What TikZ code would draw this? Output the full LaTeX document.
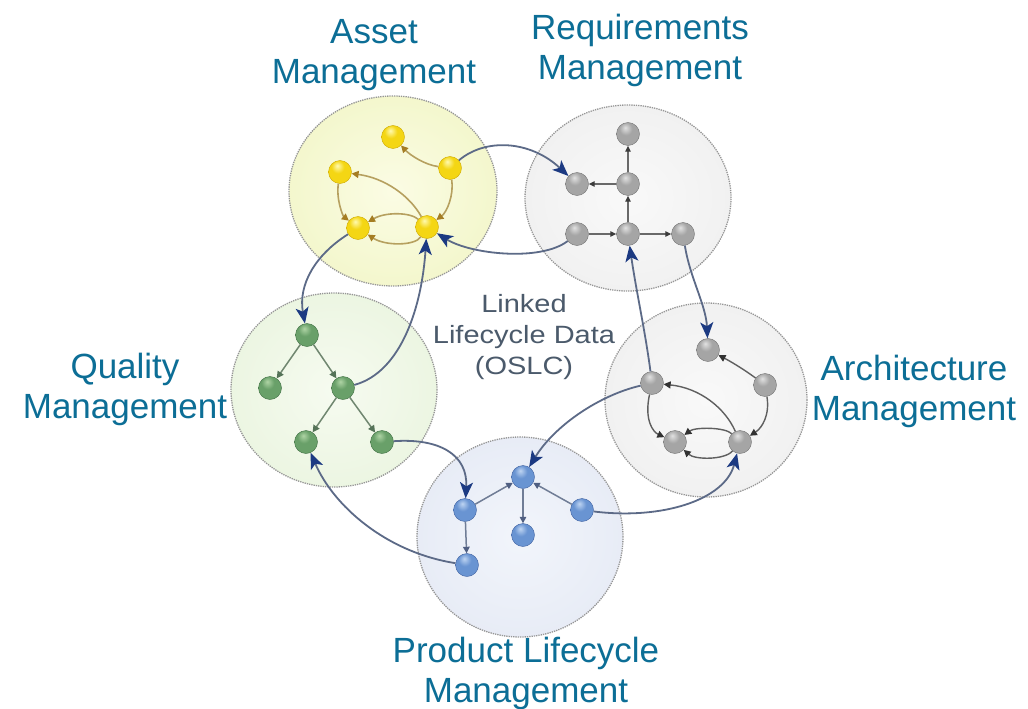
\documentclass[tikz,border=0pt]{standalone}
\usepackage{fontspec}
\setmainfont{Liberation Sans}
\newfontfamily\widefont[FakeStretch=1.16]{Liberation Sans}
\usetikzlibrary{arrows.meta}

\definecolor{labelblue}{RGB}{12,110,150}
\definecolor{linkgray}{RGB}{75,90,107}
\definecolor{xline}{RGB}{92,106,135}
\definecolor{xtip}{RGB}{28,58,130}
\definecolor{rim}{RGB}{150,150,150}

\definecolor{yL}{RGB}{255,250,175}
\definecolor{yM}{RGB}{244,214,20}
\definecolor{yD}{RGB}{205,168,0}
\definecolor{gL}{RGB}{225,225,225}
\definecolor{gM}{RGB}{165,165,165}
\definecolor{gD}{RGB}{115,115,115}
\definecolor{nL}{RGB}{175,212,165}
\definecolor{nM}{RGB}{105,160,105}
\definecolor{nD}{RGB}{62,110,66}
\definecolor{bL}{RGB}{190,212,242}
\definecolor{bM}{RGB}{105,148,210}
\definecolor{bD}{RGB}{62,96,160}

\definecolor{dYi}{RGB}{251,252,228}
\definecolor{dYo}{RGB}{236,242,182}
\definecolor{dGi}{RGB}{249,249,249}
\definecolor{dGo}{RGB}{233,233,233}
\definecolor{dNi}{RGB}{246,251,240}
\definecolor{dNo}{RGB}{226,240,212}
\definecolor{dBi}{RGB}{242,245,251}
\definecolor{dBo}{RGB}{221,227,241}

\pgfdeclareradialshading{ballY}{\pgfpoint{-6bp}{14bp}}{color(0bp)=(yL); color(14bp)=(yM); color(38bp)=(yM); color(52bp)=(yD); color(75bp)=(yD)}
\pgfdeclareradialshading{ballG}{\pgfpoint{-6bp}{14bp}}{color(0bp)=(gL); color(14bp)=(gM); color(38bp)=(gM); color(52bp)=(gD); color(75bp)=(gD)}
\pgfdeclareradialshading{ballN}{\pgfpoint{-6bp}{14bp}}{color(0bp)=(nL); color(14bp)=(nM); color(38bp)=(nM); color(52bp)=(nD); color(75bp)=(nD)}
\pgfdeclareradialshading{ballB}{\pgfpoint{-6bp}{14bp}}{color(0bp)=(bL); color(14bp)=(bM); color(38bp)=(bM); color(52bp)=(bD); color(75bp)=(bD)}

\pgfdeclareradialshading{discY}{\pgfpointorigin}{color(0bp)=(dYi); color(50bp)=(dYo); color(75bp)=(dYo)}
\pgfdeclareradialshading{discG}{\pgfpointorigin}{color(0bp)=(dGi); color(50bp)=(dGo); color(75bp)=(dGo)}
\pgfdeclareradialshading{discN}{\pgfpointorigin}{color(0bp)=(dNi); color(50bp)=(dNo); color(75bp)=(dNo)}
\pgfdeclareradialshading{discB}{\pgfpointorigin}{color(0bp)=(dBi); color(50bp)=(dBo); color(75bp)=(dBo)}

\tikzset{
  ball/.style={circle, minimum size=23pt, inner sep=0pt, draw=#1D, line width=0.4pt, shading=ball#1},
  yball/.style={circle, minimum size=23pt, inner sep=0pt, draw=yD, line width=0.4pt, shading=ballY},
  gball/.style={circle, minimum size=23pt, inner sep=0pt, draw=gD, line width=0.4pt, shading=ballG},
  nball/.style={circle, minimum size=23pt, inner sep=0pt, draw=nD, line width=0.4pt, shading=ballN},
  bball/.style={circle, minimum size=23pt, inner sep=0pt, draw=bD, line width=0.4pt, shading=ballB},
  disc/.style={draw=rim, line width=1.3pt, densely dotted},
  biglabel/.style={text=labelblue, align=center, inner sep=0pt, font=\fontsize{35}{40}\selectfont},
  xlink/.style={draw=xline, line width=1.8pt, -{Stealth[length=16pt,width=13pt,inset=4pt,color=xtip]}},
  yedge/.style={draw={rgb,255:red,182;green,160;blue,95}, line width=1.6pt, -{Triangle[length=7pt,width=7pt,color={rgb,255:red,165;green,125;blue,35}]}},
  gedge/.style={draw={rgb,255:red,105;green,105;blue,105}, line width=1.3pt, -{Triangle[length=6pt,width=5.5pt,color={rgb,255:red,60;green,60;blue,60}]}},
  hedge/.style={draw={rgb,255:red,95;green,95;blue,95}, line width=1.4pt, -{Triangle[length=7pt,width=7pt,color={rgb,255:red,50;green,50;blue,50}]}},
  nedge/.style={draw={rgb,255:red,112;green,135;blue,112}, line width=1.5pt, -{Triangle[length=7pt,width=7pt,color={rgb,255:red,85;green,115;blue,88}]}},
  bedge/.style={draw={rgb,255:red,112;green,125;blue,150}, line width=1.5pt, -{Triangle[length=6.5pt,width=6.5pt,color={rgb,255:red,80;green,95;blue,130}]}},
}

\begin{document}
\begin{tikzpicture}[x=1pt,y=-1pt]
\useasboundingbox (0,0) rectangle (1028,709);
\fill[white] (0,0) rectangle (1028,709);

% discs
\path[disc, shading=discY] (393,191) ellipse [x radius=104pt, y radius=95pt];
\path[disc, shading=discG] (628,198) ellipse [x radius=103pt, y radius=93pt];
\path[disc, shading=discG] (706,400) ellipse [x radius=101pt, y radius=97pt];
\path[disc, shading=discN] (334,390) ellipse [x radius=103pt, y radius=97pt];
\path[disc, shading=discB] (520,537) ellipse [x radius=103pt, y radius=100pt];

% Asset management balls
\node[yball] (A1) at (393,137) {};
\node[yball] (A2) at (340,172) {};
\node[yball] (A3) at (450,168) {};
\node[yball] (A4) at (358,228) {};
\node[yball] (A5) at (427,227) {};

% Requirements
\node[gball] (R1) at (628,134) {};
\node[gball] (R2) at (577,184) {};
\node[gball] (R3) at (628,184) {};
\node[gball] (R4) at (577,234) {};
\node[gball] (R5) at (628,234) {};
\node[gball] (R6) at (683,234) {};

% Architecture
\node[gball] (H1) at (708,350) {};
\node[gball] (H2) at (652,383) {};
\node[gball] (H3) at (765,385) {};
\node[gball] (H4) at (675,442) {};
\node[gball] (H5) at (740,442) {};

% Quality
\node[nball] (Q1) at (307,335) {};
\node[nball] (Q2) at (270,388) {};
\node[nball] (Q3) at (343,388) {};
\node[nball] (Q4) at (306,442) {};
\node[nball] (Q5) at (382,442) {};

% Product lifecycle
\node[bball] (P1) at (523,477) {};
\node[bball] (P2) at (465,510) {};
\node[bball] (P3) at (523,535) {};
\node[bball] (P4) at (582,510) {};
\node[bball] (P5) at (467,565) {};

% inner edges: asset
\draw[yedge] (A3) .. controls (425,165) and (410,155) .. (A1);
\draw[yedge] (A5) .. controls (410,196) and (385,178) .. (A2);
\draw[yedge] (A2) .. controls (336,200) and (343,216) .. (A4);
\draw[yedge] (A3) .. controls (454,195) and (447,212) .. (A5);
\draw[yedge] (A5) .. controls (410,212) and (385,212) .. (A4);
\draw[yedge] (A5) .. controls (415,246) and (385,246) .. (A4);

% inner edges: requirements
\draw[gedge] (R3) -- (R1);
\draw[gedge] (R3) -- (R2);
\draw[gedge] (R5) -- (R3);
\draw[gedge] (R4) -- (R5);
\draw[gedge] (R5) -- (R6);

% inner edges: architecture
\draw[hedge] (H3) .. controls (742,368) and (728,360) .. (H1);
\draw[hedge] (H5) .. controls (725,408) and (700,388) .. (H2);
\draw[hedge] (H2) .. controls (644,420) and (653,432) .. (H4);
\draw[hedge] (H3) .. controls (770,415) and (762,428) .. (H5);
\draw[hedge] (H5) .. controls (725,427) and (695,427) .. (H4);
\draw[hedge] (H5) .. controls (725,460) and (695,460) .. (H4);

% inner edges: quality
\draw[nedge] (Q1) -- (Q2);
\draw[nedge] (Q1) -- (Q3);
\draw[nedge] (Q3) -- (Q4);
\draw[nedge] (Q3) -- (Q5);

% inner edges: product
\draw[bedge] (P2) -- (P1);
\draw[bedge] (P4) -- (P1);
\draw[bedge] (P1) -- (P3);
\draw[bedge] (P2) -- (P5);

% cross links
\draw[xlink] (A3) .. controls (485,138) and (530,140) .. (R2);
\draw[xlink] (R4) .. controls (540,262) and (470,254) .. (A5);
\draw[xlink] (Q3) .. controls (402,372) and (422,305) .. (A5);
\draw[xlink] (A4) .. controls (315,255) and (298,285) .. (Q1);
\draw[xlink] (Q5) .. controls (440,438) and (468,455) .. (P2);
\draw[xlink] (P5) .. controls (385,552) and (333,505) .. (Q4);
\draw[xlink] (P4) .. controls (662,520) and (725,500) .. (H5);
\draw[xlink] (H2) .. controls (600,395) and (555,425) .. (P1);
\draw[xlink] (H2) .. controls (645,330) and (636,290) .. (R5);
\draw[xlink] (R6) .. controls (690,278) and (706,305) .. (H1);

% labels
\node[biglabel] (lblA) at (374,55) {Asset\\Management};
\node[biglabel] (lblR) at (640,50) {Requirements\\Management};
\node[biglabel] (lblQ) at (125,389) {Quality\\Management};
\node[biglabel] (lblH) at (914,391) {Architecture\\Management};
\node[biglabel] (lblP) at (526,673) {Product Lifecycle\\Management};
\node[text=linkgray, align=center, inner sep=0pt, font=\widefont\fontsize{25}{31}\selectfont] (oslc) at (524,337) {Linked\\Lifecycle Data\\(OSLC)};
\end{tikzpicture}
\end{document}
